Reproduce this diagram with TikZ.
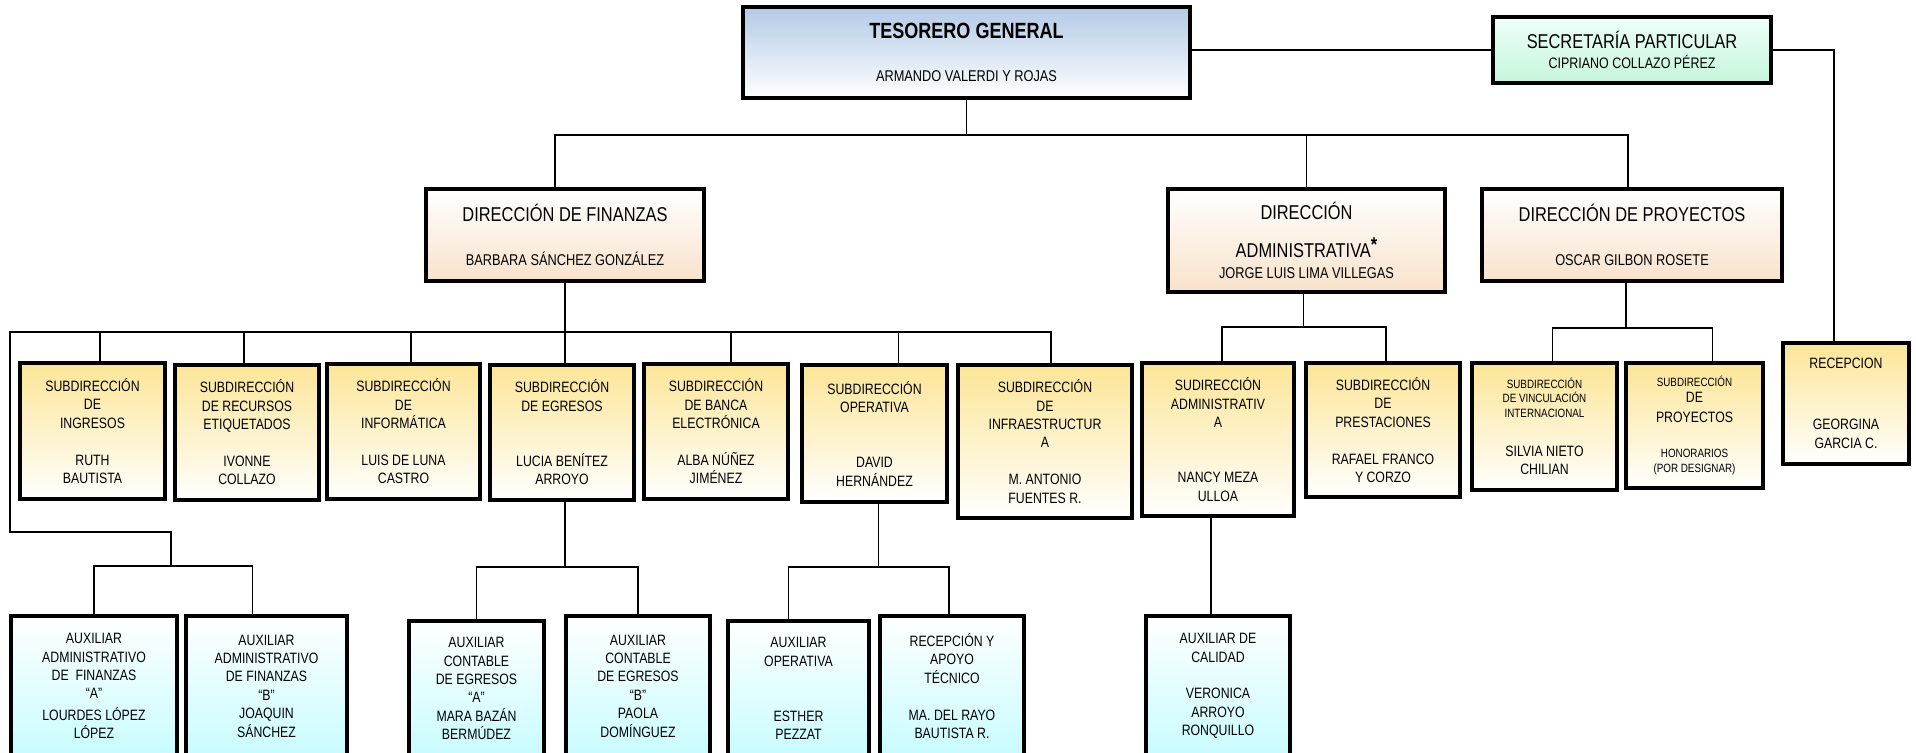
\documentclass[tikz,border=0pt]{standalone}
\usepackage{fontspec}
\setmainfont[FakeStretch=0.82]{Liberation Sans}
\usepackage{tikz}
\definecolor{azultes}{HTML}{B3CAE6}
\definecolor{menta}{HTML}{C6F6DA}
\definecolor{mentaclaro}{HTML}{EEFFFA}
\definecolor{durazno}{HTML}{F9E2CB}
\definecolor{amarillo}{HTML}{FCE597}
\definecolor{celeste}{HTML}{C8FCFF}
\newcommand{\chico}[1]{{\fontsize{6}{7.3}\selectfont #1}}
\tikzstyle{caja} = [rectangle, draw=black, line width=1.8pt, align=center, inner sep=1pt]
\tikzstyle{jefe} = [caja, top color=azultes, bottom color=white, font=\fontsize{7.8}{9.4}\selectfont]
\tikzstyle{secre} = [caja, top color=mentaclaro, bottom color=menta, font=\fontsize{7.6}{9.1}\selectfont]
\tikzstyle{direc} = [caja, top color=white, bottom color=durazno, font=\fontsize{7.8}{9.4}\selectfont]
\tikzstyle{subdir} = [caja, top color=amarillo, bottom color=white, font=\fontsize{7.5}{9.2}\selectfont]
\tikzstyle{aux} = [caja, top color=white, bottom color=celeste, font=\fontsize{7.5}{9.2}\selectfont]
\tikzstyle{conn} = [line width=0.8pt]

\begin{document}
\begin{tikzpicture}[x=0.5pt, y=-0.5pt]
				\useasboundingbox (0,0) rectangle (1916,752);
				% titular y secretaria
				\node(tes) [jefe, minimum width=223.5pt, minimum height=45.5pt] at (966.5,52.5) {{\fontsize{11}{13}\selectfont\bfseries TESORERO GENERAL}\\[12pt]ARMANDO VALERDI Y ROJAS};
				\node(sec) [secre, minimum width=139pt, minimum height=33pt] at (1632,50) {{\fontsize{10}{12}\selectfont SECRETARÍA PARTICULAR}\\[1pt]CIPRIANO COLLAZO PÉREZ};
				
				% direcciones
				\node(dfin) [direc, minimum width=139pt, minimum height=46pt] at (565,235) {{\fontsize{10}{12}\selectfont DIRECCIÓN DE FINANZAS}\\[12.8pt]BARBARA SÁNCHEZ GONZÁLEZ};
				\node(dadm) [direc, minimum width=138.5pt, minimum height=51.5pt] at (1306.5,240.5) {{\fontsize{10}{12}\selectfont DIRECCIÓN}\\[8.1pt]{\fontsize{10}{12}\selectfont ADMINISTRATIVA\raisebox{3pt}{\bfseries *}}\\[1.3pt]JORGE LUIS LIMA VILLEGAS};
				\node(dproy) [direc, minimum width=150pt, minimum height=46pt] at (1632,235) {{\fontsize{10}{12}\selectfont DIRECCIÓN DE PROYECTOS}\\[12.8pt]OSCAR GILBON ROSETE};
				
				% subdirecciones
				\node(ingresos) [subdir, minimum width=72.5pt, minimum height=68pt] at (92.5,431) {SUBDIRECCIÓN\\DE\\INGRESOS\\[9.2pt]RUTH\\BAUTISTA};
				\node(recursos) [subdir, minimum width=72pt, minimum height=67.5pt] at (247,432.5) {SUBDIRECCIÓN\\DE RECURSOS\\ETIQUETADOS\\[9.2pt]IVONNE\\COLLAZO};
				\node(informatica) [subdir, minimum width=76.5pt, minimum height=67.5pt] at (403.5,431.5) {SUBDIRECCIÓN\\DE\\INFORMÁTICA\\[9.2pt]LUIS DE LUNA\\CASTRO};
				\node(egresos) [subdir, minimum width=72pt, minimum height=67.5pt] at (562,432.5) {SUBDIRECCIÓN\\DE EGRESOS\\[18.4pt]LUCIA BENÍTEZ\\ARROYO};
				\node(banca) [subdir, minimum width=72pt, minimum height=67.5pt] at (716,431.5) {SUBDIRECCIÓN\\DE BANCA\\ELECTRÓNICA\\[9.2pt]ALBA NÚÑEZ\\JIMÉNEZ};
				\node(operativa) [subdir, minimum width=72.5pt, minimum height=68.5pt] at (874.5,433.5) {SUBDIRECCIÓN\\OPERATIVA\\[18.4pt]DAVID\\HERNÁNDEZ};
				\node(infra) [subdir, minimum width=87pt, minimum height=76.5pt] at (1045,441.5) {SUBDIRECCIÓN\\DE\\INFRAESTRUCTUR\\A\\[9.2pt]M. ANTONIO\\FUENTES R.};
				\node(subadm) [subdir, minimum width=76pt, minimum height=76.5pt] at (1218,439.5) {SUDIRECCIÓN\\ADMINISTRATIV\\A\\[18.4pt]NANCY MEZA\\ULLOA};
				\node(prestaciones) [subdir, minimum width=77pt, minimum height=67pt] at (1383,430) {SUBDIRECCIÓN\\DE\\PRESTACIONES\\[9.2pt]RAFAEL FRANCO\\Y CORZO};
				\node(vinculacion) [subdir, minimum width=72.5pt, minimum height=63.5pt] at (1544.5,426.5) {\chico{SUBDIRECCIÓN}\\[-1.9pt]\chico{DE VINCULACIÓN}\\[-1.9pt]\chico{INTERNACIONAL}\\[10.3pt]SILVIA NIETO\\CHILIAN};
				\node(proyectos) [subdir, minimum width=68.5pt, minimum height=62.5pt] at (1694.5,425.5) {\chico{SUBDIRECCIÓN}\\[-1.4pt]DE\\[0.8pt]PROYECTOS\\[8.3pt]\chico{HONORARIOS}\\[-1.9pt]\chico{(POR DESIGNAR)}};
				\node(recep) [subdir, minimum width=63pt, minimum height=60.5pt] at (1846,403.5) {RECEPCION\\[21.3pt]GEORGINA\\GARCIA C.};
				
				% auxiliares
				\node(auxfina) [aux, minimum width=83pt, minimum height=70pt] at (94,686) {AUXILIAR\\ADMINISTRATIVO\\DE\ \ FINANZAS\\“A”\\[1.5pt]LOURDES LÓPEZ\\LÓPEZ};
				\node(auxfinb) [aux, minimum width=80.5pt, minimum height=70pt] at (266.5,686) {AUXILIAR\\ADMINISTRATIVO\\DE FINANZAS\\“B”\\JOAQUIN\\SÁNCHEZ};
				\node(auxconta) [aux, minimum width=67.5pt, minimum height=67.5pt] at (476.5,688.5) {AUXILIAR\\CONTABLE\\DE EGRESOS\\“A”\\MARA BAZÁN\\BERMÚDEZ};
				\node(auxcontb) [aux, minimum width=72pt, minimum height=70pt] at (638,686) {AUXILIAR\\CONTABLE\\DE EGRESOS\\“B”\\PAOLA\\DOMÍNGUEZ};
				\node(auxoper) [aux, minimum width=70.5pt, minimum height=67.5pt] at (798.5,688.5) {AUXILIAR\\OPERATIVA\\[18.4pt]ESTHER\\PEZZAT};
				\node(recapoyo) [aux, minimum width=72pt, minimum height=70pt] at (952,686) {RECEPCIÓN Y\\APOYO\\TÉCNICO\\[9.2pt]MA. DEL RAYO\\BAUTISTA R.};
				\node(auxcal) [aux, minimum width=72pt, minimum height=70pt] at (1218,686) {AUXILIAR DE\\CALIDAD\\[9.2pt]VERONICA\\ARROYO\\RONQUILLO};
				
				% puntos de las lineas
				\coordinate (busfin) at (565,332);
				\coordinate (codo) at (10,532);
				\coordinate (auxfinbus) at (171,566);
				
				\draw[conn] (tes.east |- sec.west) -- (sec.west);
				\draw[conn] (sec.east) -| ([xshift=-6pt]recep.north);
				\draw[conn] (tes.south) -- ++(0,35) -| ([xshift=-5pt]dfin.north);
				\draw[conn] (tes.south) -- ++(0,35) -| (dadm.north);
				\draw[conn] (tes.south) -- ++(0,35) -| ([xshift=-2pt]dproy.north);
				
				\draw[conn] (dfin.south) -- (busfin);
				\draw[conn] (busfin) -| ([xshift=3.75pt]ingresos.north);
				\draw[conn] (busfin) -| ([xshift=-1.5pt]recursos.north);
				\draw[conn] (busfin) -| ([xshift=3.75pt]informatica.north);
				\draw[conn] (busfin) -| ([xshift=1.5pt]egresos.north);
				\draw[conn] (busfin) -| ([xshift=7.5pt]banca.north);
				\draw[conn] (busfin) -| ([xshift=12pt]operativa.north);
				\draw[conn] (busfin) -| ([xshift=3pt]infra.north);
				\draw[conn] (busfin) -| (codo) -| (auxfinbus);
				\draw[conn] (auxfinbus) -| (auxfina.north);
				\draw[conn] (auxfinbus) -| ([xshift=-7pt]auxfinb.north);
				
				\draw[conn] ([xshift=1.5pt]egresos.south) -- ++(0,65) -| (auxconta.north);
				\draw[conn] ([xshift=1.5pt]egresos.south) -- ++(0,65) -| (auxcontb.north);
				\draw[conn] ([xshift=2pt]operativa.south) -- ++(0,63) -| ([xshift=-5pt]auxoper.north);
				\draw[conn] ([xshift=2pt]operativa.south) -- ++(0,63) -| ([xshift=-1.5pt]recapoyo.north);
				
				\draw[conn] ([xshift=-1.5pt]dadm.south) -- ++(0,33) -| ([xshift=2pt]subadm.north);
				\draw[conn] ([xshift=-1.5pt]dadm.south) -- ++(0,33) -| ([xshift=1.5pt]prestaciones.north);
				\draw[conn] ([xshift=-3.5pt]subadm.south) -- ([xshift=-3.5pt]auxcal.north);
				
				\draw[conn] ([xshift=-3pt]dproy.south) -- ++(0,45) -| ([xshift=4pt]vinculacion.north);
				\draw[conn] ([xshift=-3pt]dproy.south) -- ++(0,45) -| ([xshift=9pt]proyectos.north);
			\end{tikzpicture}
\end{document}
